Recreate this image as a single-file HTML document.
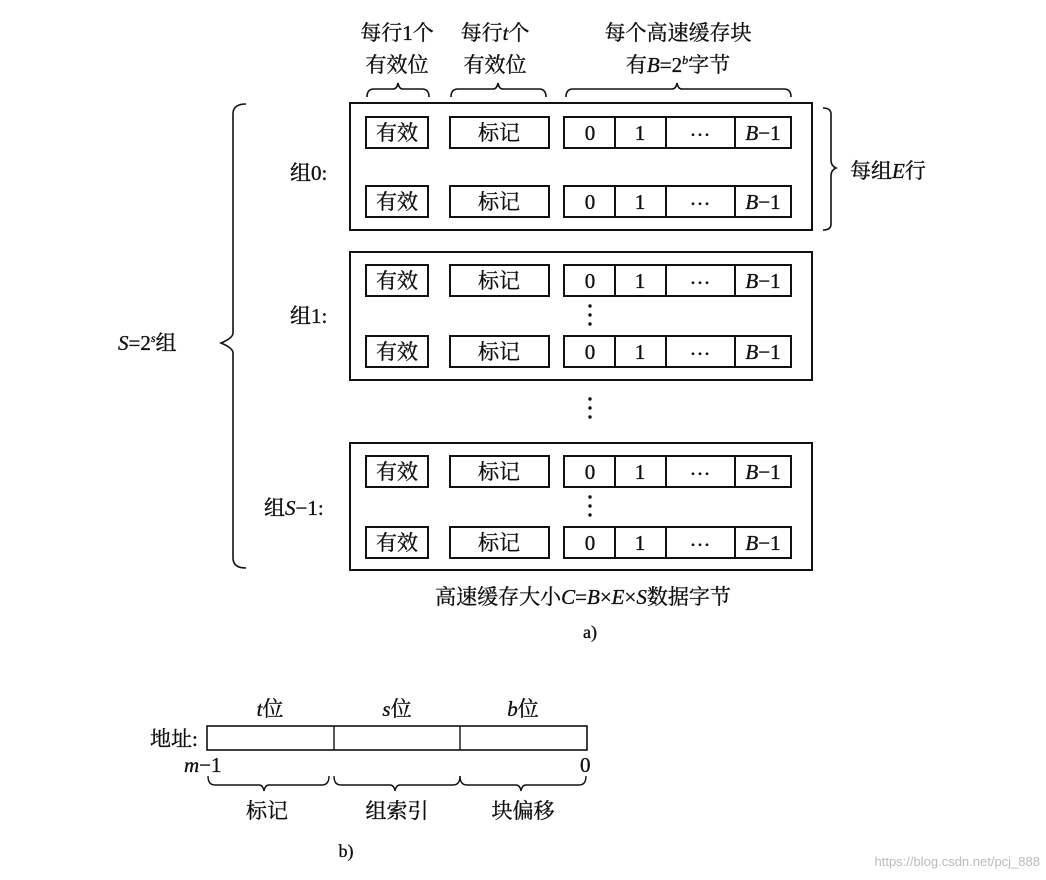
<!DOCTYPE html>
<html><head><meta charset="utf-8"><style>
html,body{margin:0;padding:0;background:#fff;}
svg{display:block}
text{font-family:"Liberation Serif","Noto Serif CJK SC","Noto Sans CJK SC",serif;fill:#111;stroke:#111;stroke-width:0.35;}
.c{text-anchor:middle}
.i{font-style:italic}
</style></head><body>
<svg width="1046" height="880" viewBox="0 0 1046 880" xmlns="http://www.w3.org/2000/svg">
<g stroke="#111" fill="none" stroke-width="2">
<rect x="350" y="103" width="462" height="127"/>
<rect x="350" y="252" width="462" height="128"/>
<rect x="350" y="443" width="462" height="127"/>
<rect x="366" y="117" width="62" height="31"/><rect x="450" y="117" width="99" height="31"/><rect x="564" y="117" width="227" height="31"/><path d="M615 117v31M666 117v31M735 117v31"/>
<rect x="366" y="186" width="62" height="31"/><rect x="450" y="186" width="99" height="31"/><rect x="564" y="186" width="227" height="31"/><path d="M615 186v31M666 186v31M735 186v31"/>
<rect x="366" y="265" width="62" height="31"/><rect x="450" y="265" width="99" height="31"/><rect x="564" y="265" width="227" height="31"/><path d="M615 265v31M666 265v31M735 265v31"/>
<rect x="366" y="336" width="62" height="31"/><rect x="450" y="336" width="99" height="31"/><rect x="564" y="336" width="227" height="31"/><path d="M615 336v31M666 336v31M735 336v31"/>
<rect x="366" y="456" width="62" height="31"/><rect x="450" y="456" width="99" height="31"/><rect x="564" y="456" width="227" height="31"/><path d="M615 456v31M666 456v31M735 456v31"/>
<rect x="366" y="527" width="62" height="31"/><rect x="450" y="527" width="99" height="31"/><rect x="564" y="527" width="227" height="31"/><path d="M615 527v31M666 527v31M735 527v31"/>
<path d="M367 97q0-8 7-8h19q4 0 5-6q1 6 5 6h19q7 0 7 8" stroke-width="1.6"/>
<path d="M451 97q0-8 7-8h35q4 0 5-6q1 6 5 6h36q7 0 7 8" stroke-width="1.6"/>
<path d="M566 97q0-8 7-8h99q4 0 5-6q1 6 5 6h102q7 0 7 8" stroke-width="1.6"/>
<path d="M823 108q8 0 8 6v46q0 6 5 8q-5 2-5 8v48q0 6-8 6" stroke-width="1.6"/>
<path d="M246 104q-13 0-13 10v219q0 5-12 10q12 5 12 10v205q0 10 13 10" stroke-width="1.6"/>
<rect x="207" y="726" width="380" height="24" stroke-width="1.6"/>
<path d="M334 726v24M460 726v24" stroke-width="1.4"/>
<path d="M208 776q0 9 7 9h44q4 0 5 6q1-6 5-6h53q7 0 7-9" stroke-width="1.4"/>
<path d="M334 776q0 9 7 9h49q4 0 5 6q1-6 5-6h53q7 0 7-9" stroke-width="1.4"/>
<path d="M460 776q0 9 7 9h49q4 0 5 6q1-6 5-6h53q7 0 7-9" stroke-width="1.4"/>
</g>
<g font-size="21">
<text x="397" y="40" class="c">每行1个</text>
<text x="397" y="72" class="c">有效位</text>
<text x="495" y="40" class="c">每行<tspan class="i">t</tspan>个</text>
<text x="495" y="72" class="c">有效位</text>
<text x="678" y="40" class="c">每个高速缓存块</text>
<text x="678" y="72" class="c">有<tspan class="i">B</tspan>=2<tspan font-size="12" dy="-8" class="i">b</tspan><tspan dy="8">字节</tspan></text>
<text x="850" y="178">每组<tspan class="i">E</tspan>行</text>
<text x="118" y="350"><tspan class="i">S</tspan>=2<tspan font-size="12" dy="-8" class="i">s</tspan><tspan dy="8">组</tspan></text>
<text x="290" y="180">组0:</text>
<text x="290" y="323">组1:</text>
<text x="264" y="515">组<tspan class="i">S</tspan>−1:</text>
</g>
<g font-size="21">
<text x="397" y="140" class="c">有效</text><text x="499" y="140" class="c">标记</text><text x="590" y="140" class="c">0</text><text x="640" y="140" class="c">1</text><text x="700" y="142" class="c">···</text><text x="763" y="140" class="c"><tspan class="i">B</tspan>−1</text>
<text x="397" y="209" class="c">有效</text><text x="499" y="209" class="c">标记</text><text x="590" y="209" class="c">0</text><text x="640" y="209" class="c">1</text><text x="700" y="211" class="c">···</text><text x="763" y="209" class="c"><tspan class="i">B</tspan>−1</text>
<text x="397" y="288" class="c">有效</text><text x="499" y="288" class="c">标记</text><text x="590" y="288" class="c">0</text><text x="640" y="288" class="c">1</text><text x="700" y="290" class="c">···</text><text x="763" y="288" class="c"><tspan class="i">B</tspan>−1</text>
<text x="397" y="359" class="c">有效</text><text x="499" y="359" class="c">标记</text><text x="590" y="359" class="c">0</text><text x="640" y="359" class="c">1</text><text x="700" y="361" class="c">···</text><text x="763" y="359" class="c"><tspan class="i">B</tspan>−1</text>
<text x="397" y="479" class="c">有效</text><text x="499" y="479" class="c">标记</text><text x="590" y="479" class="c">0</text><text x="640" y="479" class="c">1</text><text x="700" y="481" class="c">···</text><text x="763" y="479" class="c"><tspan class="i">B</tspan>−1</text>
<text x="397" y="550" class="c">有效</text><text x="499" y="550" class="c">标记</text><text x="590" y="550" class="c">0</text><text x="640" y="550" class="c">1</text><text x="700" y="552" class="c">···</text><text x="763" y="550" class="c"><tspan class="i">B</tspan>−1</text>
</g>
<g fill="#111">
<circle cx="590" cy="306" r="1.7"/><circle cx="590" cy="315" r="1.7"/><circle cx="590" cy="324" r="1.7"/>
<circle cx="590" cy="399" r="1.7"/><circle cx="590" cy="408" r="1.7"/><circle cx="590" cy="417" r="1.7"/>
<circle cx="590" cy="497" r="1.7"/><circle cx="590" cy="506" r="1.7"/><circle cx="590" cy="515" r="1.7"/>
</g>
<g font-size="21">
<text x="583" y="604" class="c">高速缓存大小<tspan class="i">C</tspan>=<tspan class="i">B</tspan>×<tspan class="i">E</tspan>×<tspan class="i">S</tspan>数据字节</text>
<text x="590" y="638" class="c" font-size="18">a)</text>
<text x="270" y="716" class="c"><tspan class="i">t</tspan>位</text>
<text x="397" y="716" class="c"><tspan class="i">s</tspan>位</text>
<text x="523" y="716" class="c"><tspan class="i">b</tspan>位</text>
<text x="150" y="746">地址:</text>
<text x="184" y="772"><tspan class="i">m</tspan>−1</text>
<text x="580" y="772">0</text>
<text x="267" y="818" class="c">标记</text>
<text x="397" y="818" class="c">组索引</text>
<text x="523" y="818" class="c">块偏移</text>
<text x="346" y="857" class="c" font-size="18">b)</text>
</g>
<text x="1040" y="866" font-size="13" text-anchor="end" style="font-family:'Liberation Sans',sans-serif;fill:#bbb;stroke:none">https://blog.csdn.net/pcj_888</text>
</svg>
</body></html>
